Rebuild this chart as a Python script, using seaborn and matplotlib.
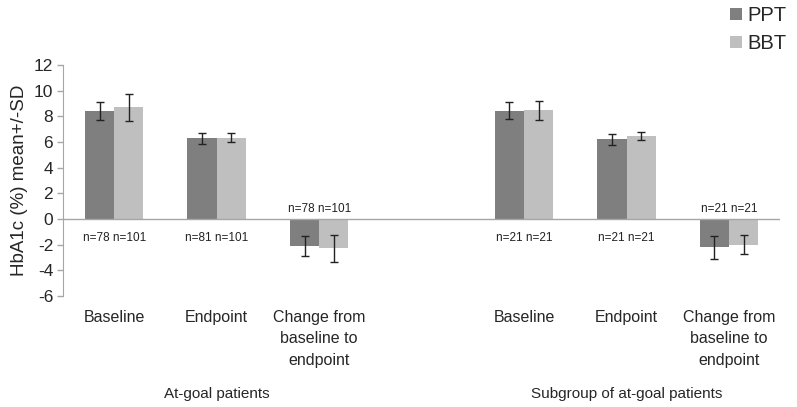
import pandas as pd
import numpy as np
import matplotlib
matplotlib.use("Agg")
import matplotlib.pyplot as plt
import matplotlib.transforms as mtransforms
import seaborn as sns

# Data
slots = ["g1_base", "g1_end", "g1_chg", "gap", "g2_base", "g2_end", "g2_chg"]
slot_labels = ["Baseline", "Endpoint", "Change from\nbaseline to\nendpoint", "",
               "Baseline", "Endpoint", "Change from\nbaseline to\nendpoint"]
bar_slots = ["g1_base", "g1_end", "g1_chg", "g2_base", "g2_end", "g2_chg"]

ppt_mean = [8.44, 6.29, -2.10, 8.44, 6.21, -2.21]
ppt_sd = [0.72, 0.43, 0.78, 0.67, 0.45, 0.90]
bbt_mean = [8.70, 6.34, -2.29, 8.49, 6.47, -2.00]
bbt_sd = [1.03, 0.35, 1.03, 0.74, 0.34, 0.73]

n_labels = ["n=78 n=101", "n=81 n=101", "n=78 n=101", "n=21 n=21", "n=21 n=21", "n=21 n=21"]
groups = ["At-goal patients", "Subgroup of at-goal patients"]
group_slots = [["g1_base", "g1_end", "g1_chg"], ["g2_base", "g2_end", "g2_chg"]]
treatments = ["PPT", "BBT"]
colors = ["#7f7f7f", "#bfbfbf"]

df = pd.DataFrame({
    "slot": bar_slots * 2,
    "treatment": ["PPT"] * 6 + ["BBT"] * 6,
    "mean": ppt_mean + bbt_mean,
    "sd": ppt_sd + bbt_sd,
})

sns.set_style("white")
plt.rcParams["font.family"] = ["Liberation Sans", "DejaVu Sans"]
plt.rcParams["axes.unicode_minus"] = False

fig, ax = plt.subplots(figsize=(7.97, 4.07), dpi=100)
fig.subplots_adjust(left=0.079, right=0.979, top=0.84, bottom=0.273)

sns.barplot(data=df, x="slot", y="mean", hue="treatment", order=slots,
            hue_order=treatments, palette=colors, width=0.57, errorbar=None,
            saturation=1, linewidth=0, ax=ax)

# error bars on top of seaborn's bars
for cont, trt in zip(ax.containers, treatments):
    sub = df[df["treatment"] == trt].set_index("slot").loc[bar_slots]
    for bar, (_, row) in zip(cont, sub.iterrows()):
        xc = bar.get_x() + bar.get_width() / 2
        ax.errorbar(xc, row["mean"], yerr=row["sd"], fmt="none", ecolor="#222222",
                    elinewidth=1, capsize=3, capthick=1, zorder=5)

# n labels
for s, lab, m in zip(bar_slots, n_labels, ppt_mean):
    xi = slots.index(s)
    if m < 0:
        ax.text(xi, 0.3, lab, ha="center", va="bottom", fontsize=8.5, color="#222222")
    else:
        ax.text(xi, -1.5, lab, ha="center", va="center", fontsize=8.5, color="#222222")

ax.axhline(0, color="#a6a6a6", lw=1, zorder=1)
ax.set_ylim(-6, 12)
ax.set_xlim(-0.5, len(slots) - 0.5)
ax.set_yticks(np.arange(-6, 13, 2))
ax.set_xticks(range(len(slots)))
ax.set_xticklabels(slot_labels, fontsize=11.5, linespacing=1.55)
ax.tick_params(axis="x", length=0, pad=10)
ax.tick_params(axis="y", length=4, width=1, color="#a6a6a6", left=True, labelsize=12.5, pad=3)
for side in ["top", "right", "bottom"]:
    ax.spines[side].set_visible(False)
ax.spines["left"].set_color("#a6a6a6")
ax.set_xlabel("")
ax.set_ylabel("HbA1c (%) mean+/-SD", fontsize=13.5, labelpad=4)

# group labels under the categories
trans = mtransforms.blended_transform_factory(ax.transData, fig.transFigure)
for g, gs in zip(groups, group_slots):
    xc = np.mean([slots.index(s) for s in gs])
    ax.text(xc, 0.032, g, transform=trans, ha="center", va="center", fontsize=11)

handles, labels = ax.get_legend_handles_labels()
ax.legend(handles, labels, loc="upper right", bbox_to_anchor=(1.0, 1.01),
          bbox_transform=fig.transFigure, frameon=False, fontsize=14.5,
          handlelength=0.6, handleheight=0.6, handletextpad=0.3, labelspacing=0.45,
          borderaxespad=0.1)

plt.savefig("out.png", dpi=100)
plt.close()
